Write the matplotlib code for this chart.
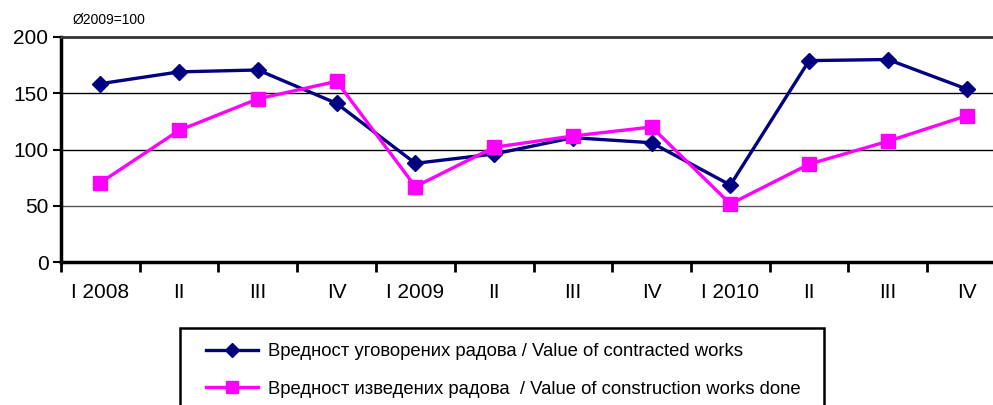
import numpy as np
import matplotlib
matplotlib.use('Agg')
import matplotlib.pyplot as plt
from matplotlib.lines import Line2D
from matplotlib.patches import Rectangle

plt.rcParams['font.family'] = ['Liberation Sans', 'DejaVu Sans']

quarters = ['I 2008', 'II', 'III', 'IV', 'I 2009', 'II', 'III', 'IV',
            'I 2010', 'II', 'III', 'IV']
contracted = [158.5, 169, 170.7, 141, 87.7, 96, 110.5, 106, 68.4, 179, 180, 153.8]
done = [70.5, 117, 145, 160.6, 67, 102, 112, 120, 51.6, 87, 107.3, 130]

label_contracted = 'Вредност уговорених радова / Value of contracted works'
label_done = 'Вредност изведених радова  / Value of construction works done'

W, H = 993, 405
fig = plt.figure(figsize=(W / 100, H / 100), dpi=100)
ax = fig.add_axes([61 / W, 143 / H, 945 / W, 225 / H])

x = np.arange(len(quarters))
ax.plot(x, contracted, '-D', color='#000080', lw=2.4, ms=8.5,
        markeredgecolor='#000080', zorder=3)
ax.plot(x, done, '-s', color='#ff00ff', lw=2.4, ms=10,
        markeredgecolor='#ff00ff', zorder=3)

ax.set_xlim(-0.5, 11.5)
ax.set_ylim(0, 200)
for v in [50, 100, 150]:
    ax.axhline(v, color='black' if v > 50 else '#555555', lw=1, zorder=1)

ax.set_yticks([0, 50, 100, 150, 200])
ax.tick_params(axis='y', labelsize=15, length=6, width=1.5, direction='out', pad=3)
ax.set_xticks(np.arange(-0.5, 12, 1))
ax.set_xticklabels([])
ax.tick_params(axis='x', which='major', length=7, width=2, direction='out')
ax.set_xticks(x, minor=True)
ax.set_xticklabels(quarters, minor=True)
ax.tick_params(axis='x', which='minor', length=0, labelsize=15, pad=15)

ax.spines['left'].set_linewidth(2.5)
ax.spines['bottom'].set_linewidth(2.5)
ax.spines['top'].set_linewidth(2)
ax.spines['top'].set_color('#333333')
ax.spines['right'].set_visible(False)

fig.text(73 / W, 1 - 20 / H, 'Ø2009=100', fontsize=10, va='center', ha='left')

fig.patches.append(Rectangle((180 / W, -0.05), 644 / W, 1 - 328 / H + 0.05,
                             transform=fig.transFigure, fill=False,
                             edgecolor='black', lw=1.8))
handles = [
    Line2D([], [], color='#000080', lw=2.4, marker='D', ms=7.5),
    Line2D([], [], color='#ff00ff', lw=2.4, marker='s', ms=9),
]
fig.legend(handles, [label_contracted, label_done], loc='upper left',
           bbox_to_anchor=(197 / W, 1 - 334 / H), frameon=False,
           fontsize=13.3, handlelength=2.8, labelspacing=1.1,
           handletextpad=0.55, borderpad=0)

fig.savefig('out.png', dpi=100)
